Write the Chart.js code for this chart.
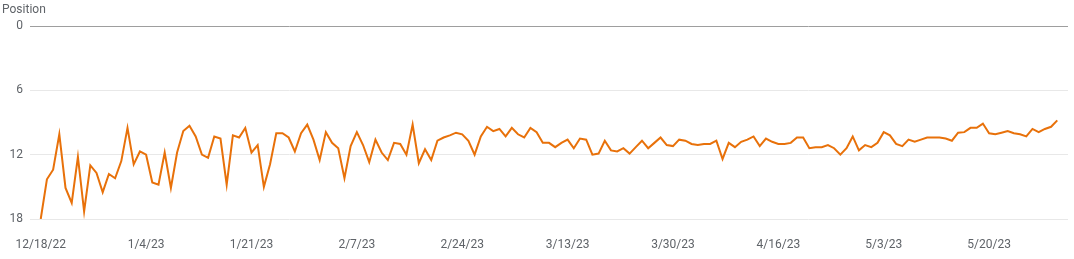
<!DOCTYPE html>
<html lang="en">
<head>
  <meta charset="UTF-8">
  <title>Position</title>
  <style>
    html, body { margin: 0; padding: 0; background: #fff; }
    .wrap { position: relative; width: 1074px; height: 259px; }
    .ytitle { position: absolute; left: 2px; top: 2px; font: 12px Roboto, Arial, sans-serif; color: #5f6368; }
  </style>
</head>
<body>
  <div class="wrap">
    <span class="ytitle">Position</span>
    <canvas id="chart" width="1074" height="259"></canvas>
  </div>
  <script src="https://cdn.jsdelivr.net/npm/chart.js"></script>
  <script>
    // daily average position, starting 12/18/22
    const startDate = new Date(2022, 11, 18);
    const positions = [
      18.0, 14.3, 13.4, 10.1, 15.1, 16.5, 12.2, 17.3, 13.0, 13.7,
      15.5, 13.8, 14.2, 12.6, 9.5, 12.9, 11.7, 12.0, 14.6, 14.8,
      11.8, 15.1, 11.8, 9.8, 9.3, 10.3, 12.0, 12.3, 10.3, 10.5,
      14.8, 10.2, 10.4, 9.5, 11.8, 11.1, 15.0, 12.9, 10.0, 10.0,
      10.4, 11.7, 10.0, 9.2, 10.6, 12.5, 9.9, 10.9, 11.4, 14.2,
      11.2, 9.9, 11.1, 12.7, 10.6, 11.8, 12.5, 10.9, 11.0, 12.0,
      9.2, 12.8, 11.5, 12.5, 10.7, 10.4, 10.2, 9.95, 10.1, 10.7,
      12.0, 10.3, 9.4, 9.8, 9.6, 10.3, 9.5, 10.1, 10.4, 9.5,
      9.9, 10.9, 10.9, 11.3, 10.9, 10.6, 11.4, 10.5, 10.6, 12.0,
      11.9, 10.7, 11.6, 11.7, 11.4, 11.9, 11.3, 10.7, 11.4, 10.9,
      10.4, 11.1, 11.2, 10.6, 10.7, 11.0, 11.1, 11.0, 11.0, 10.7,
      12.4, 10.9, 11.3, 10.8, 10.6, 10.3, 11.2, 10.5, 10.8, 11.0,
      11.0, 10.9, 10.4, 10.4, 11.4, 11.3, 11.3, 11.1, 11.4, 12.0,
      11.4, 10.3, 11.6, 11.1, 11.3, 10.9, 9.9, 10.2, 11.0, 11.2,
      10.6, 10.8, 10.6, 10.4, 10.4, 10.4, 10.5, 10.7, 9.95, 9.9,
      9.5, 9.5, 9.1, 10.0, 10.1, 9.95, 9.8, 10.0, 10.1, 10.3,
      9.6, 9.9, 9.6, 9.4, 8.8
    ];
    const xTickDays = [0, 17, 34, 51, 68, 85, 102, 119, 136, 153];
    const yTicks = [0, 6, 12, 18];

    function dayLabel(d) {
      const dt = new Date(startDate.getTime());
      dt.setDate(dt.getDate() + d);
      return (dt.getMonth() + 1) + '/' + dt.getDate() + '/' + String(dt.getFullYear()).slice(2);
    }

    const points = positions.map((v, i) => ({ x: i, y: v }));
    const font = { family: 'Roboto, Arial, sans-serif', size: 12 };

    new Chart(document.getElementById('chart'), {
      type: 'line',
      data: {
        datasets: [{
          data: points,
          borderColor: '#e8710a',
          borderWidth: 2,
          pointRadius: 0,
          tension: 0,
          fill: false
        }]
      },
      options: {
        responsive: false,
        animation: false,
        layout: { padding: { top: 26, right: 6, bottom: 0, left: 0 } },
        plugins: { legend: { display: false }, tooltip: { enabled: false } },
        scales: {
          x: {
            type: 'linear',
            min: -1.73,
            max: positions.length - 1 + 1.73,
            grid: { display: false },
            border: { display: false },
            afterBuildTicks: s => { s.ticks = xTickDays.map(v => ({ value: v })); },
            afterFit: s => { s.height = 40; },
            ticks: {
              color: '#5f6368',
              font: font,
              padding: 11,
              maxRotation: 0,
              autoSkip: false,
              callback: v => dayLabel(v)
            }
          },
          y: {
            reverse: true,
            min: 0,
            max: 18,
            afterBuildTicks: s => { s.ticks = yTicks.map(v => ({ value: v })); },
            afterFit: s => { s.width = 30; },
            grid: {
              drawTicks: false,
              color: c => c.tick && c.tick.value === 0 ? '#9e9e9e' : '#e8e8e8',
              lineWidth: 1
            },
            border: { display: false },
            ticks: { color: '#5f6368', font: font, padding: 7 }
          }
        }
      }
    });
  </script>
</body>
</html>
